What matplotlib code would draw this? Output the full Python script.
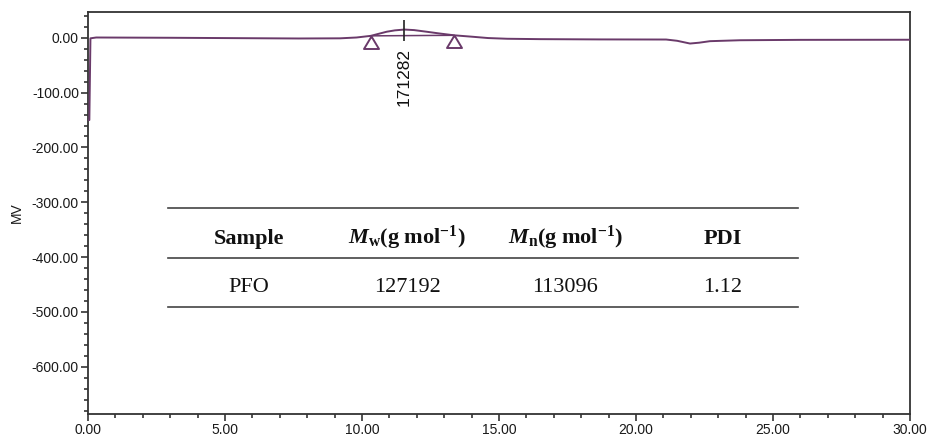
import matplotlib
matplotlib.use("Agg")
import matplotlib.pyplot as plt
from matplotlib.ticker import MultipleLocator, FormatStrFormatter

plt.rcParams["font.family"] = ["Liberation Sans", "DejaVu Sans"]
plt.rcParams["mathtext.fontset"] = "custom"
plt.rcParams["mathtext.rm"] = "Liberation Serif:bold"
plt.rcParams["mathtext.it"] = "Liberation Serif:bold:italic"
plt.rcParams["mathtext.bf"] = "Liberation Serif:bold"

# GPC trace: retention time (min) vs detector response (mV)
time = [0.00, 0.05, 0.09, 0.30, 3.0, 7.7, 9.2, 9.8, 10.32, 10.9, 11.2, 11.55, 11.9,
        12.36, 12.8, 13.36, 14.05, 14.6, 15.3, 16.5, 18.7, 21.1, 21.5, 21.97, 22.3,
        22.7, 23.8, 26.0, 30.0]
signal = [-150, -150, -1.0, 0.5, 0.0, -1.3, -1.0, 0.5, 3.5, 11.0, 13.5, 15.0, 14.0,
          11.0, 8.0, 4.5, 1.8, -0.5, -1.8, -2.5, -3.0, -3.2, -5.5, -10.5, -9.0,
          -6.2, -4.5, -3.8, -3.6]

# peak integration limits and peak apex
limit_time = [10.32, 13.36]
limit_signal = [3.5, 4.5]
peak_time = 11.55
peak_label = "171282"

# results table
col_labels = ["Sample", r"$\mathit{M}_\mathrm{w}$(g mol$^{-1}$)",
              r"$\mathit{M}_\mathrm{n}$(g mol$^{-1}$)", "PDI"]
row_values = ["PFO", "127192", "113096", "1.12"]

PURPLE = "#6a3a6a"
DARK = "#333333"

fig = plt.figure(figsize=(9.27, 4.41), dpi=100)
ax = fig.add_axes([0.0949, 0.0612, 0.8868, 0.9116])

ax.plot(time, signal, color=PURPLE, lw=1.4, zorder=3)
ax.plot(limit_time, limit_signal, color=PURPLE, lw=1.1, zorder=3)
tri = [(0, 0), (-0.6, -1), (0.6, -1), (0, 0)]
ax.plot(limit_time, limit_signal, ls="none", marker=tri, markersize=18,
        markerfacecolor="none", markeredgecolor=PURPLE, markeredgewidth=1.4, zorder=4)
ax.vlines(peak_time, -6, 33, color="#222222", lw=1.2, zorder=4)
ax.text(peak_time, -18, peak_label, rotation=90, ha="center", va="top",
        fontsize=12.5, color="#111111")

ax.set_xlim(0, 30)
ax.set_ylim(-686, 47)
ax.xaxis.set_major_locator(MultipleLocator(5))
ax.xaxis.set_minor_locator(MultipleLocator(1))
ax.yaxis.set_major_locator(MultipleLocator(100))
ax.yaxis.set_minor_locator(MultipleLocator(20))
ax.xaxis.set_major_formatter(FormatStrFormatter("%.2f"))
ax.yaxis.set_major_formatter(FormatStrFormatter("%.2f"))
ax.tick_params(which="both", direction="out", color=DARK, width=1.2,
               labelsize=10, labelcolor="#1a1a1a")
ax.tick_params(which="major", length=5, pad=1.5)
ax.tick_params(which="minor", length=3)
for s in ax.spines.values():
    s.set_color(DARK)
    s.set_linewidth(1.3)
ax.set_ylabel("MV", fontsize=10, color="#1a1a1a")
ax.yaxis.set_label_coords(-0.078, 0.5)

# table drawn in axes fraction
x0, x1 = 0.0973, 0.864
for y in (0.513, 0.389, 0.267):
    ax.plot([x0, x1], [y, y], transform=ax.transAxes, color="#444444", lw=1.2,
            clip_on=False)
col_x = [0.1959, 0.3881, 0.5803, 0.7725]
for cx, lab, val in zip(col_x, col_labels, row_values):
    ax.text(cx, 0.4236, lab, transform=ax.transAxes, ha="center", va="baseline",
            family="Liberation Serif", fontweight="bold", fontsize=16, color="#111111")
    ax.text(cx, 0.304, val, transform=ax.transAxes, ha="center", va="baseline",
            family="Liberation Serif", fontsize=16, color="#111111")

fig.savefig("out.png", dpi=100)
